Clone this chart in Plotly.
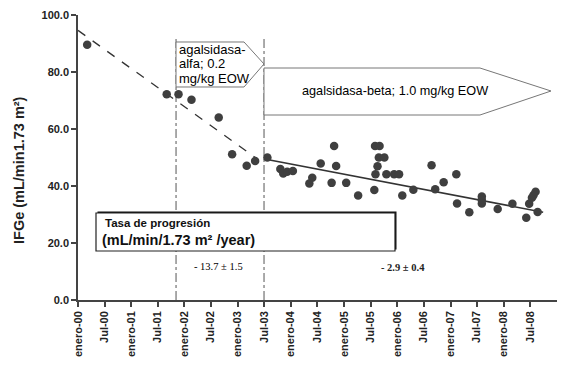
import plotly.graph_objects as go

# ---------------- data ----------------
dates = ["2000-03-04", "2001-09-01", "2001-11-21", "2002-02-18", "2002-08-24", "2002-11-24",
         "2003-03-04", "2003-05-01", "2003-07-24", "2003-10-21", "2003-11-10", "2003-12-07",
         "2004-01-15", "2004-05-07", "2004-05-27", "2004-07-24", "2004-10-07", "2004-10-24",
         "2004-11-07", "2005-01-15", "2005-04-07", "2005-07-27", "2005-08-01", "2005-08-04",
         "2005-08-18", "2005-08-27", "2005-09-01", "2005-10-04", "2005-10-18", "2005-12-10",
         "2006-01-13", "2006-02-04", "2006-04-21", "2006-08-24", "2006-09-18", "2006-11-15",
         "2007-02-10", "2007-02-15", "2007-05-10", "2007-08-04", "2007-08-04", "2007-08-04",
         "2007-11-21", "2008-03-01", "2008-06-04", "2008-06-24", "2008-07-13", "2008-07-24",
         "2008-08-07", "2008-08-21"]
ifge = [89.6, 72.2, 72.2, 70.3, 64.0, 51.1,
        47.1, 48.8, 50.0, 46.0, 44.4, 45.0,
        45.3, 40.9, 42.9, 47.9, 41.1, 54.0,
        47.0, 41.1, 36.7, 38.6, 54.0, 44.1,
        46.9, 50.0, 54.0, 50.0, 44.1, 44.1,
        44.1, 36.7, 38.7, 47.3, 38.9, 41.3,
        44.1, 33.9, 30.8, 36.3, 35.1, 33.9,
        31.9, 33.8, 28.9, 33.8, 35.9, 36.8,
        38.0, 30.9]

trend_alfa_x = ["2000-01-01", "2003-05-10"]
trend_alfa_y = [94.6, 49.7]
trend_beta_x = ["2003-07-13", "2008-09-28"]
trend_beta_y = [49.4, 30.8]

switch_dates = ["2001-11-04", "2003-07-01"]

tick_dates = ["2000-01-01", "2000-07-01", "2001-01-01", "2001-07-01", "2002-01-01", "2002-07-01",
              "2003-01-01", "2003-07-01", "2004-01-01", "2004-07-01", "2005-01-01", "2005-07-01",
              "2006-01-01", "2006-07-01", "2007-01-01", "2007-07-01", "2008-01-01", "2008-07-01"]
tick_text = ["enero-00", "Jul-00", "enero-01", "Jul-01", "enero-02", "Jul-02", "enero-03", "Jul-03",
             "enero-04", "Jul-04", "enero-05", "Jul-05", "enero-06", "Jul-06", "enero-07", "Jul-07",
             "enero-08", "Jul-08"]
y_ticks = [0, 20, 40, 60, 80, 100]
y_tick_text = ["0.0", "20.0", "40.0", "60.0", "80.0", "100.0"]

alfa_label_lines = ["agalsidasa-", "alfa; 0.2", "mg/kg EOW"]
beta_label = "agalsidasa-beta; 1.0 mg/kg EOW"
rate_alfa = "- 13.7 ± 1.5"
rate_beta = "- 2.9 ± 0.4"

# ---------------- layout helpers ----------------
OFF = 8  # default page body margin
W, H = 574 - OFF, 385 - OFF
L, T = 78 - OFF, 15 - OFF
PW, PH = 557 - 78, 300 - 15
R, B = W - L - PW, H - T - PH


def px(x):  # page pixel -> paper x
    return (x - OFF - L) / PW


def py(y):  # page pixel -> paper y
    return (T + PH - (y - OFF)) / PH


def path(pts):
    return "M " + " L ".join(f"{px(a):.4f},{py(b):.4f}" for a, b in pts) + " Z"


fig = go.Figure()

fig.add_trace(go.Scatter(x=trend_alfa_x, y=trend_alfa_y, mode="lines",
                         line=dict(color="#333333", width=1.3, dash="dash"),
                         showlegend=False, hoverinfo="skip"))
fig.add_trace(go.Scatter(x=trend_beta_x, y=trend_beta_y, mode="lines",
                         line=dict(color="#333333", width=1.5),
                         showlegend=False, hoverinfo="skip"))
fig.add_trace(go.Scatter(x=dates, y=ifge, mode="markers",
                         marker=dict(color="#3f3f3f", size=8.5),
                         showlegend=False))

shapes = []
for d in switch_dates:
    shapes.append(dict(type="line", xref="x", yref="y", x0=d, x1=d, y0=0, y1=92.3,
                       line=dict(color="#555555", width=1, dash="dashdot"), layer="below"))

# alfa arrow
shapes.append(dict(type="path", xref="paper", yref="paper",
                   path=path([(176, 42), (244, 42), (264, 64), (244, 87), (176, 87)]),
                   fillcolor="white", line=dict(color="#777777", width=1)))
# beta arrow
shapes.append(dict(type="path", xref="paper", yref="paper",
                   path=path([(264, 68), (480, 68), (551, 91), (480, 115), (264, 115)]),
                   fillcolor="white", line=dict(color="#777777", width=1)))
# Tasa box with shadow
shapes.append(dict(type="rect", xref="paper", yref="paper",
                   x0=px(97.5), x1=px(396.5), y0=py(249.5), y1=py(211.5),
                   fillcolor="#111111", line=dict(width=0)))
shapes.append(dict(type="rect", xref="paper", yref="paper",
                   x0=px(96), x1=px(395), y0=py(251), y1=py(213),
                   fillcolor="white", line=dict(color="#222222", width=1.2)))

sans = "Arial, Liberation Sans"
annotations = []
for line_text, ypix in zip(alfa_label_lines, [49.5, 64, 78.5]):
    annotations.append(dict(xref="paper", yref="paper", x=px(177), y=py(ypix),
                            xanchor="left", yanchor="middle", text=line_text, showarrow=False,
                            font=dict(family=sans, size=13, color="#000000")))
annotations += [
    dict(xref="paper", yref="paper", x=px(395), y=py(91), xanchor="center", yanchor="middle",
         text=beta_label, showarrow=False,
         font=dict(family=sans, size=12.7, color="#000000")),
    dict(xref="paper", yref="paper", x=px(103), y=py(223), xanchor="left", yanchor="middle",
         text="<b>Tasa de progresión</b>", showarrow=False,
         font=dict(family=sans, size=11.5, color="#111111")),
    dict(xref="paper", yref="paper", x=px(100), y=py(240), xanchor="left", yanchor="middle",
         text="<b>(mL/min/1.73 m² /year)</b>", showarrow=False,
         font=dict(family=sans, size=14.5, color="#111111")),
    dict(xref="paper", yref="paper", x=px(218), y=py(266), xanchor="center", yanchor="middle",
         text=rate_alfa, showarrow=False,
         font=dict(family="Liberation Serif, Times New Roman", size=10.5, color="#000000")),
    dict(xref="paper", yref="paper", x=px(403), y=py(267), xanchor="center", yanchor="middle",
         text="<b>" + rate_beta + "</b>", showarrow=False,
         font=dict(family="Liberation Serif, Times New Roman", size=10.5, color="#222222")),
    dict(xref="paper", yref="paper", x=px(19), y=py(170), xanchor="center", yanchor="middle",
         text="<b>IFGe (mL/min1.73 m²)</b>", showarrow=False, textangle=-90,
         font=dict(family=sans, size=14.5, color="#222222")),
]

fig.update_layout(
    width=W, height=H,
    margin=dict(l=L, r=R, t=T, b=B),
    paper_bgcolor="white", plot_bgcolor="white",
    shapes=shapes, annotations=annotations,
    xaxis=dict(type="date", range=["2000-01-01", "2009-01-01"], automargin=False,
               tickvals=tick_dates, ticktext=["<b>" + t + "</b>" for t in tick_text], tickangle=-90,
               showgrid=False, zeroline=False,
               showline=True, linecolor="#444444", linewidth=1.5,
               ticks="outside", ticklen=5, tickwidth=1.5, tickcolor="#444444",
               tickfont=dict(family=sans, size=11, color="#222222")),
    yaxis=dict(range=[0, 100], automargin=False,
               tickvals=y_ticks, ticktext=["<b>" + t + "</b>" for t in y_tick_text],
               showgrid=False, zeroline=False,
               showline=True, linecolor="#444444", linewidth=1.5,
               ticks="outside", ticklen=5, tickwidth=1.5, tickcolor="#444444",
               tickfont=dict(family=sans, size=11, color="#222222")),
)

fig.write_html("out.html")
